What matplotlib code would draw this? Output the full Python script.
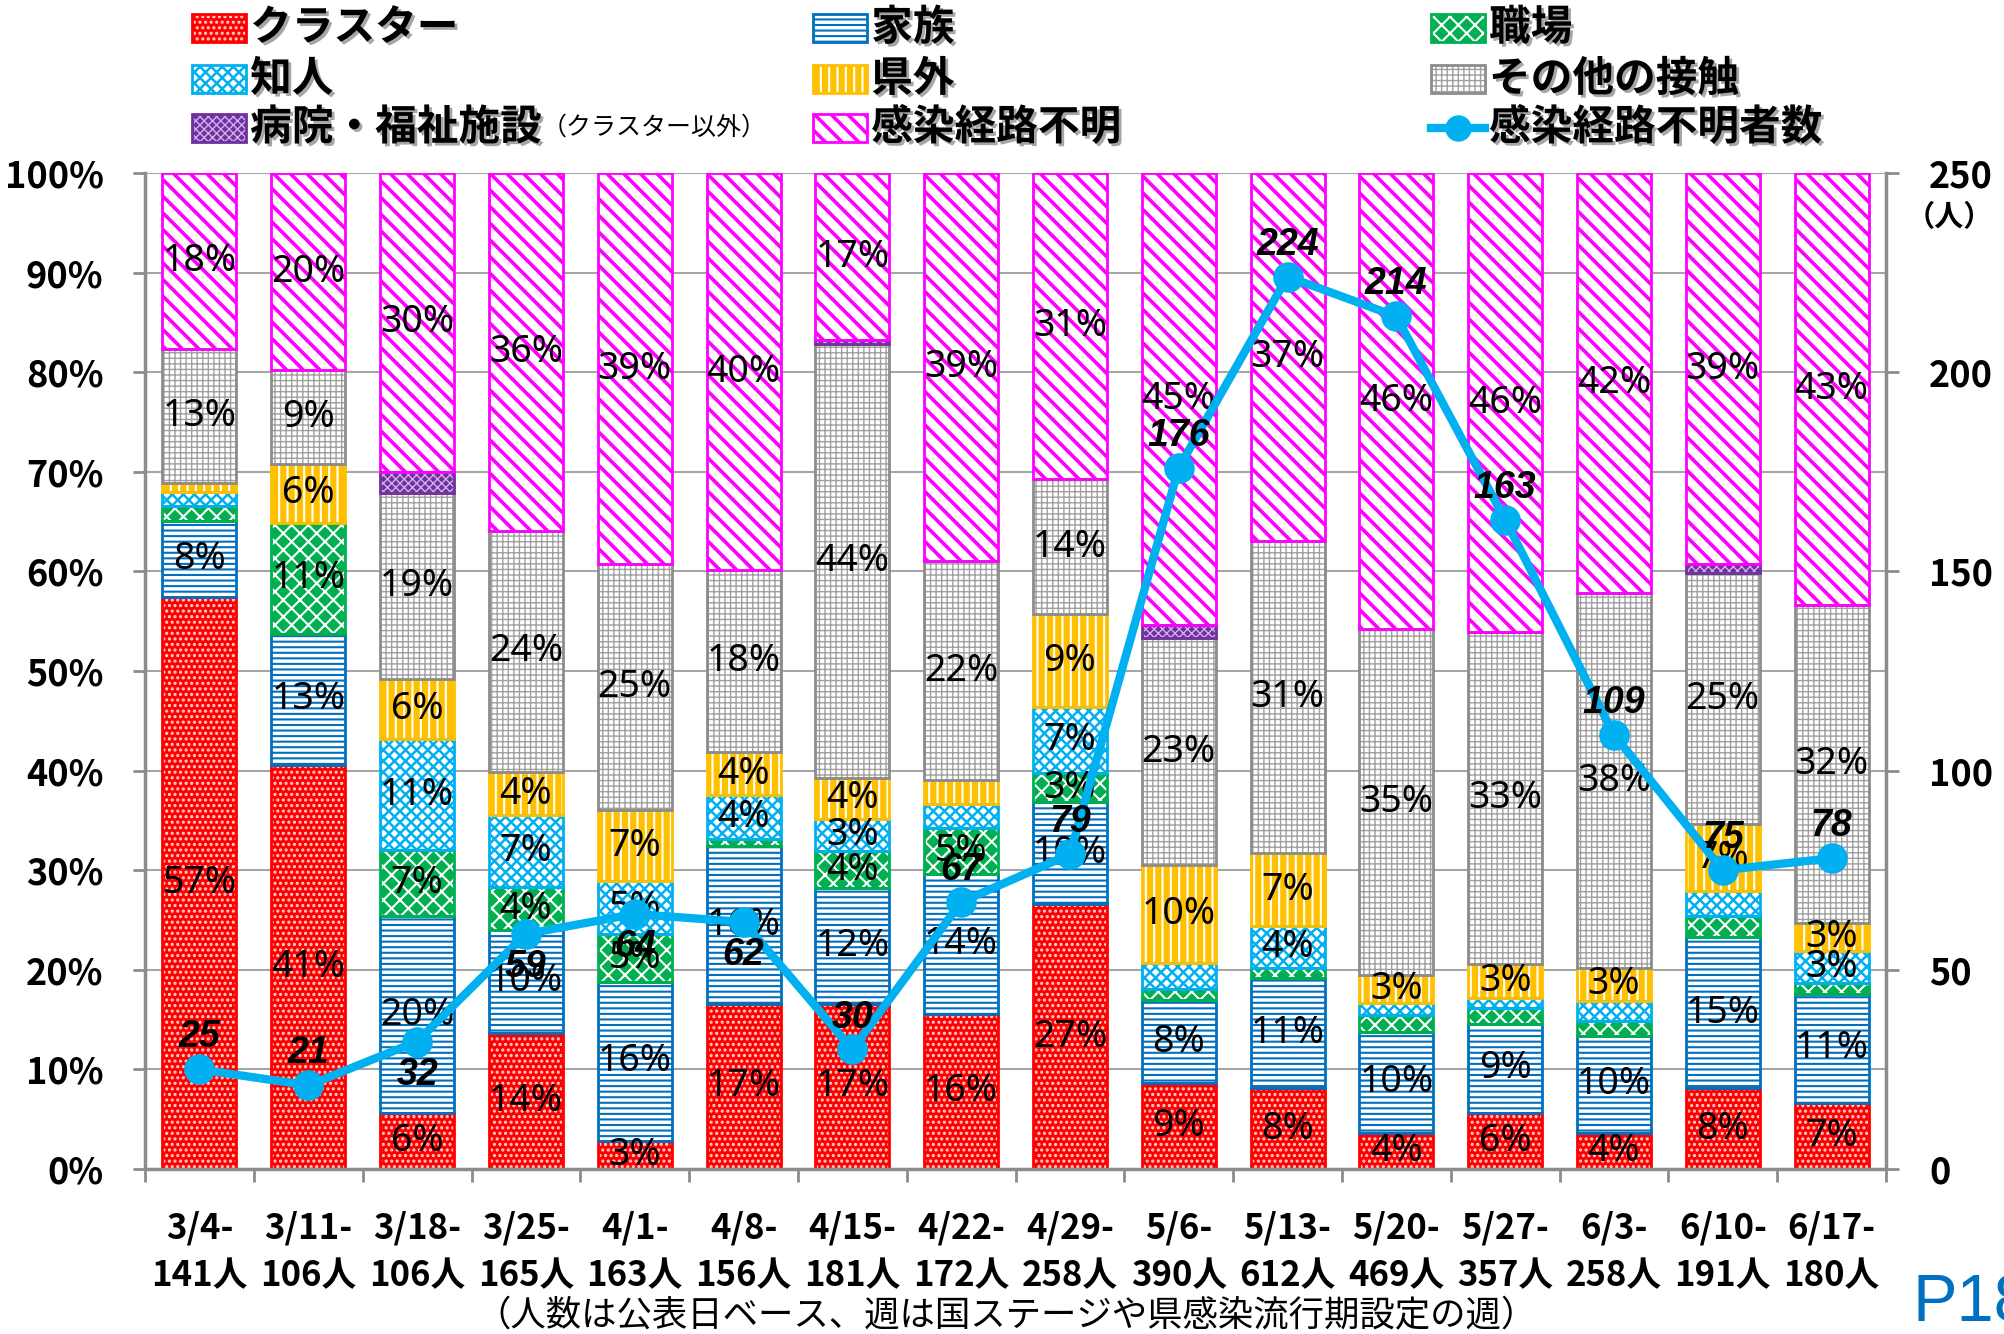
import matplotlib
matplotlib.use('Agg')
import matplotlib.pyplot as plt
import matplotlib.patheffects as pe
from matplotlib.patches import Rectangle
from matplotlib.lines import Line2D
import numpy as np

plt.rcParams['font.family'] = ['Noto Sans CJK JP', 'DejaVu Sans']
plt.rcParams['hatch.linewidth'] = 1.5

# 週 / 公表人数
weeks = ['3/4', '3/11', '3/18', '3/25', '4/1', '4/8', '4/15', '4/22',
         '4/29', '5/6', '5/13', '5/20', '5/27', '6/3', '6/10', '6/17']
totals = [141, 106, 106, 165, 163, 156, 181, 172,
          258, 390, 612, 469, 357, 258, 191, 180]

# 感染経路不明者数 (右軸)
unknown_counts = [25, 21, 32, 59, 64, 62, 30, 67, 79, 176, 224, 214, 163, 109, 75, 78]

# 割合 (%)
cluster   = [57.4, 40.6, 5.6, 13.7, 2.8, 16.6, 16.6, 15.6, 26.6, 8.6, 8.1, 3.6, 5.6, 3.6, 8.1, 6.6]
family    = [7.7, 13.1, 19.8, 10.3, 16.0, 15.8, 11.6, 14.0, 10.2, 8.4, 11.1, 10.2, 9.0, 9.8, 15.2, 11.0]
workplace = [1.5, 11.2, 6.6, 4.3, 4.8, 0.7, 3.7, 4.6, 3.0, 1.1, 1.0, 1.7, 1.6, 1.5, 2.1, 1.1]
acquaint  = [1.4, 0.0, 11.2, 7.2, 5.3, 4.4, 3.2, 2.4, 6.6, 2.6, 4.2, 1.2, 1.0, 2.0, 2.5, 3.2]
outside   = [0.9, 5.9, 6.0, 4.4, 7.1, 4.4, 4.2, 2.5, 9.3, 9.8, 7.3, 2.8, 3.4, 3.3, 6.7, 2.8]
other     = [13.4, 9.4, 18.7, 24.2, 24.7, 18.2, 43.5, 21.9, 13.6, 22.8, 31.4, 34.7, 33.3, 37.6, 25.2, 31.9]
hospital  = [0.0, 0.0, 2.1, 0.0, 0.0, 0.0, 0.4, 0.0, 0.0, 1.3, 0.0, 0.0, 0.0, 0.0, 0.9, 0.0]
unknown   = [17.7, 19.8, 30.0, 35.9, 39.3, 39.9, 16.8, 39.0, 30.7, 45.4, 36.9, 45.8, 46.1, 42.2, 39.3, 43.4]

series_names = ['クラスター', '家族', '職場', '知人', '県外', 'その他の接触',
                '病院・福祉施設', '感染経路不明']
series_vals = [cluster, family, workplace, acquaint, outside, other, hospital, unknown]

# (face, hatch colour, hatch, edge, hatch width)
styles = [
    ('#FF0000', '#FFD0D0', '...', '#FF0000', 1.5),
    ('white', '#0070C0', '---', '#0070C0', 1.5),
    ('#00B050', 'white', 'xx', '#00B050', 1.5),
    ('white', '#00B0F0', 'xxx', '#00B0F0', 1.8),
    ('#FFC000', 'white', '||', '#FFC000', 1.5),
    ('white', '#A0A0A0', '+++', '#8C8C8C', 1.0),
    ('#7030A0', '#D0B0E8', 'xxxx', '#7030A0', 1.0),
    ('white', '#FF00FF', '\\\\', '#FF00FF', 2.6),
]
line_color = '#00B0F0'
line_label_side = ['up', 'up', 'down', 'down', 'down', 'down', 'up', 'up',
                   'up', 'up', 'up', 'up', 'up', 'up', 'up', 'up']


def hatch_width(artists, w):
    # 3.10 以降はパッチ毎に設定できる
    for a in artists:
        if hasattr(a, 'set_hatch_linewidth'):
            a.set_hatch_linewidth(w)


fig = plt.figure(figsize=(20.04, 13.34), dpi=100)
ax = fig.add_axes([0.0724, 0.1237, 0.8687, 0.7466])
x = np.arange(len(weeks))
bw = 0.68

bottom = np.zeros(len(weeks))
for name, vals, (face, hc, hatch, edge, hw_) in zip(series_names, series_vals, styles):
    vals = np.array(vals)
    m = vals > 0
    with plt.rc_context({'hatch.linewidth': hw_}):
        bars = ax.bar(x[m], vals[m], bw, bottom=bottom[m], color=face, edgecolor=hc,
                      hatch=hatch, linewidth=0, zorder=2)
    hatch_width(bars, hw_)
    ax.bar(x[m], vals[m], bw, bottom=bottom[m], fill=False, edgecolor=edge,
           linewidth=2, zorder=2.1)
    if name != '病院・福祉施設':
        for xi, v, b in zip(x, vals, bottom):
            if v >= 2.75:
                ax.text(xi, b + v / 2, f'{v:.0f}%', ha='center', va='center',
                        fontsize=27, family='Noto Sans', color='black', zorder=3)
    bottom = bottom + vals

grey = '#8C8C8C'
ax.set_xlim(-0.5, len(weeks) - 0.5)
ax.set_ylim(0, 100)
ax.set_yticks(np.arange(0, 101, 10))
ax.set_yticklabels([f'{v}%' for v in range(0, 101, 10)])
ax.yaxis.grid(True, color='#A6A6A6', linewidth=1.5)
ax.set_axisbelow(True)
for s in ['top', 'right']:
    ax.spines[s].set_visible(False)
for s in ['left', 'bottom']:
    ax.spines[s].set_color(grey)
    ax.spines[s].set_linewidth(2.5)
ax.tick_params(axis='y', direction='out', length=9, width=2, color=grey,
               labelsize=26, pad=21)
ax.set_xticks(x)
ax.set_xticklabels([f'{w}-\n{t}人' for w, t in zip(weeks, totals)],
                   fontsize=25, fontweight='bold', linespacing=1.45)
ax.set_xticks(np.arange(-0.5, len(weeks)), minor=True)
ax.tick_params(axis='x', which='major', length=0, pad=30)
ax.tick_params(axis='x', which='minor', direction='out', length=9, width=2, color=grey)
for lab in ax.get_yticklabels():
    lab.set_fontweight('bold')

ax2 = ax.twinx()
ax2.set_ylim(0, 250)
ax2.set_yticks(np.arange(0, 251, 50))
for s in ['top', 'left', 'bottom']:
    ax2.spines[s].set_visible(False)
ax2.spines['right'].set_color(grey)
ax2.spines['right'].set_linewidth(2.5)
ax2.tick_params(axis='y', direction='out', length=9, width=2, color=grey,
                labelsize=26, pad=22)
for lab in ax2.get_yticklabels():
    lab.set_fontweight('bold')

ax2.plot(x, unknown_counts, color=line_color, linewidth=6, marker='o',
         markersize=21, zorder=4)
for xi, v, side in zip(x, unknown_counts, line_label_side):
    dy = 23 if side == 'up' else -24
    ax2.annotate(str(v), (xi, v), xytext=(0, dy), textcoords='offset points',
                 ha='center', va='center', fontsize=27, fontweight='bold',
                 fontstyle='italic', family='Liberation Sans', color='black',
                 zorder=5)

fig.text(1906 / 2004, 1 - 217 / 1334, '（人）', fontsize=21, fontweight='bold',
         ha='left', va='center')

# 凡例
shadow = [pe.withSimplePatchShadow(offset=(2, -2), shadow_rgbFace='#909090', alpha=0.8)]
col_x = [0.0958, 0.4057, 0.714]
row_y = [0.979, 0.9406, 0.9042]
hw, hh = 0.027, 0.021
leg_texts = {}
for k in range(9):
    r, c = divmod(k, 3)
    cx, cy = col_x[c], row_y[r]
    if k < 8:
        name = series_names[k]
        face, hc, hatch, edge, hw_ = styles[k]
        with plt.rc_context({'hatch.linewidth': hw_}):
            rect = Rectangle((cx, cy - hh / 2), hw, hh, transform=fig.transFigure,
                             facecolor=face, edgecolor=hc, hatch=hatch, linewidth=0)
        hatch_width([rect], hw_)
        fig.add_artist(rect)
        fig.add_artist(Rectangle((cx, cy - hh / 2), hw, hh, transform=fig.transFigure,
                                 fill=False, edgecolor=edge, linewidth=2))
    else:
        name = '感染経路不明者数'
        fig.add_artist(Line2D([cx, cx + hw], [cy, cy], transform=fig.transFigure,
                              color=line_color, linewidth=6))
        fig.add_artist(Line2D([cx + hw / 2], [cy], transform=fig.transFigure,
                              color=line_color, marker='o', markersize=18))
    leg_texts[name] = fig.text(cx + hw + 0.002, cy, name, fontsize=30, fontweight='bold',
                               ha='left', va='center', path_effects=shadow)

fig.canvas.draw()
bb = leg_texts['病院・福祉施設'].get_window_extent(fig.canvas.get_renderer())
fig.text(bb.x1 / fig.bbox.width, row_y[2], '（クラスター以外）', fontsize=18,
         ha='left', va='center')

fig.text(1006 / 2004, 0.013, '（人数は公表日ベース、週は国ステージや県感染流行期設定の週）',
         fontsize=25.5, ha='center', va='center')
fig.text(1912 / 2004, 13 / 1334, 'P18', fontsize=48, color='#0070C0',
         family='Liberation Sans', ha='left', va='baseline')

fig.savefig('out.png', dpi=100)
